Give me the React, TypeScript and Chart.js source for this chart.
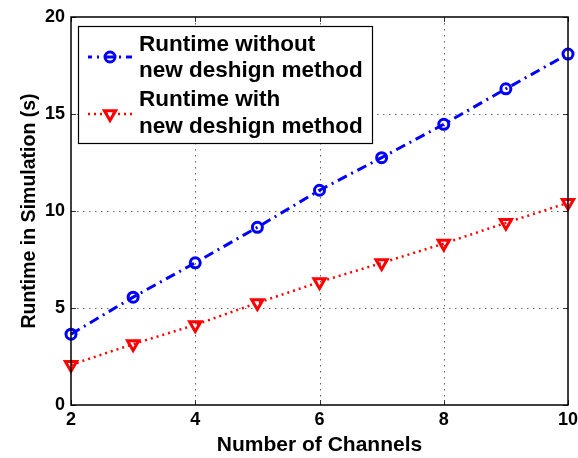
import React, { useEffect, useRef } from "react";
import { Chart, registerables } from "chart.js";

Chart.register(...registerables);

const channels = [2, 3, 4, 5, 6, 7, 8, 9, 10];
const runtimeWithout = [3.65, 5.56, 7.33, 9.16, 11.07, 12.75, 14.47, 16.3, 18.09];
const runtimeWith = [2.07, 3.14, 4.13, 5.26, 6.34, 7.32, 8.32, 9.39, 10.42];
const xTicks = [2, 4, 6, 8, 10];
const yTicks = [0, 5, 10, 15, 20];
const legendWithout = ["Runtime without", "new deshign method"];
const legendWith = ["Runtime with", "new deshign method"];

const FONT = "'Liberation Sans', Arial, Helvetica, sans-serif";

const framePlugin = {
  id: "frame",
  beforeDatasetsDraw(chart: any) {
    const { ctx, chartArea: a, scales } = chart;
    ctx.save();
    // dotted grid
    ctx.strokeStyle = "rgba(0,0,0,0.6)";
    ctx.lineWidth = 1;
    ctx.setLineDash([1.5, 4.5]);
    xTicks.forEach((v) => {
      if (v === xTicks[0] || v === xTicks[xTicks.length - 1]) return;
      const px = Math.round(scales.x.getPixelForValue(v)) + 0.5;
      ctx.beginPath();
      ctx.moveTo(px, a.top);
      ctx.lineTo(px, a.bottom);
      ctx.stroke();
    });
    yTicks.forEach((v) => {
      if (v === yTicks[0] || v === yTicks[yTicks.length - 1]) return;
      const py = Math.round(scales.y.getPixelForValue(v)) + 0.5;
      ctx.beginPath();
      ctx.moveTo(a.left, py);
      ctx.lineTo(a.right, py);
      ctx.stroke();
    });
    ctx.setLineDash([]);
    // inward tick marks
    ctx.strokeStyle = "#333";
    ctx.lineWidth = 1;
    xTicks.forEach((v) => {
      const px = Math.round(scales.x.getPixelForValue(v)) + 0.5;
      ctx.beginPath();
      ctx.moveTo(px, a.bottom);
      ctx.lineTo(px, a.bottom - 5);
      ctx.moveTo(px, a.top);
      ctx.lineTo(px, a.top + 5);
      ctx.stroke();
    });
    yTicks.forEach((v) => {
      const py = Math.round(scales.y.getPixelForValue(v)) + 0.5;
      ctx.beginPath();
      ctx.moveTo(a.left, py);
      ctx.lineTo(a.left + 5, py);
      ctx.moveTo(a.right, py);
      ctx.lineTo(a.right - 5, py);
      ctx.stroke();
    });
    ctx.restore();
  },
  afterDraw(chart: any) {
    const { ctx, chartArea: a } = chart;
    ctx.save();
    // frame
    ctx.strokeStyle = "#000";
    ctx.lineWidth = 1.5;
    ctx.strokeRect(a.left, a.top, a.right - a.left, a.bottom - a.top);

    // legend
    const bx = a.left + 7;
    const by = a.top + 9;
    const bw = 294;
    const bh = 117;
    ctx.fillStyle = "#fff";
    ctx.fillRect(bx, by, bw, bh);
    ctx.lineWidth = 1.2;
    ctx.strokeStyle = "#000";
    ctx.strokeRect(bx + 0.5, by + 0.5, bw, bh);

    // entry 1 sample
    const sx0 = bx + 10;
    const sx1 = bx + 54;
    const sc = (sx0 + sx1) / 2;
    const y1 = by + 31;
    ctx.strokeStyle = "#0000ff";
    ctx.lineWidth = 3;
    ctx.setLineDash([10, 5, 2, 5]);
    ctx.lineDashOffset = 6;
    ctx.beginPath();
    ctx.moveTo(sx0, y1);
    ctx.lineTo(sx1, y1);
    ctx.stroke();
    ctx.setLineDash([]);
    ctx.beginPath();
    ctx.arc(sc, y1, 5, 0, Math.PI * 2);
    ctx.stroke();

    // entry 2 sample
    const y2 = by + 88;
    ctx.strokeStyle = "#ff0000";
    ctx.lineWidth = 2.5;
    ctx.setLineDash([2, 4]);
    ctx.beginPath();
    ctx.moveTo(sx0, y2);
    ctx.lineTo(sx1, y2);
    ctx.stroke();
    ctx.setLineDash([]);
    ctx.lineWidth = 3;
    const r = 6.5;
    ctx.beginPath();
    ctx.moveTo(sc - r * 0.866, y2 - r * 0.5);
    ctx.lineTo(sc + r * 0.866, y2 - r * 0.5);
    ctx.lineTo(sc, y2 + r);
    ctx.closePath();
    ctx.stroke();

    // texts
    ctx.fillStyle = "#000";
    ctx.font = `bold 22.5px ${FONT}`;
    ctx.textBaseline = "alphabetic";
    ctx.textAlign = "left";
    const tx = bx + 61;
    ctx.fillText(legendWithout[0], tx, by + 25);
    ctx.fillText(legendWithout[1], tx, by + 51);
    ctx.fillText(legendWith[0], tx, by + 80);
    ctx.fillText(legendWith[1], tx, by + 107);
    ctx.restore();
  },
};

export default function App() {
  const ref = useRef<HTMLCanvasElement | null>(null);

  useEffect(() => {
    if (!ref.current) return;
    const chart = new Chart(ref.current, {
      type: "line",
      data: {
        labels: channels,
        datasets: [
          {
            label: legendWithout.join(" "),
            data: channels.map((c, i) => ({ x: c, y: runtimeWithout[i] })),
            borderColor: "#0000ff",
            borderWidth: 3,
            borderDash: [10, 5, 2, 5],
            pointStyle: "circle",
            pointRadius: 5,
            pointBorderWidth: 3,
            pointBorderColor: "#0000ff",
            pointBackgroundColor: "rgba(0,0,0,0)",
            tension: 0,
            fill: false,
            clip: false,
          },
          {
            label: legendWith.join(" "),
            data: channels.map((c, i) => ({ x: c, y: runtimeWith[i] })),
            borderColor: "#ff0000",
            borderWidth: 2.5,
            borderDash: [2, 4],
            pointStyle: "triangle",
            pointRotation: 180,
            pointRadius: 6.5,
            pointBorderWidth: 3,
            pointBorderColor: "#ff0000",
            pointBackgroundColor: "rgba(0,0,0,0)",
            tension: 0,
            fill: false,
            clip: false,
          },
        ],
      },
      options: {
        animation: false,
        responsive: false,
        maintainAspectRatio: false,
        layout: { padding: { top: 17, right: 10, left: 0, bottom: 0 } },
        plugins: {
          legend: { display: false },
          tooltip: { enabled: false },
        },
        scales: {
          x: {
            type: "linear",
            min: 2,
            max: 10,
            afterBuildTicks: (scale: any) => {
              scale.ticks = xTicks.map((v) => ({ value: v }));
            },
            afterFit: (scale: any) => {
              scale.height = 53;
              scale.paddingLeft = 0;
              scale.paddingRight = 0;
            },
            grid: { display: false, drawTicks: false },
            border: { display: false },
            ticks: {
              color: "#000",
              padding: 4,
              font: { family: FONT, size: 18, weight: "bold" },
            },
            title: {
              display: true,
              text: "Number of Channels",
              color: "#000",
              padding: { top: 3, bottom: 0 },
              font: { family: FONT, size: 21, weight: "bold" },
            },
          },
          y: {
            type: "linear",
            min: 0,
            max: 20,
            afterBuildTicks: (scale: any) => {
              scale.ticks = yTicks.map((v) => ({ value: v }));
            },
            afterFit: (scale: any) => {
              scale.width = 71;
              scale.paddingTop = 0;
              scale.paddingBottom = 0;
            },
            grid: { display: false, drawTicks: false },
            border: { display: false },
            ticks: {
              color: "#000",
              padding: 6,
              font: { family: FONT, size: 18, weight: "bold" },
            },
            title: {
              display: true,
              text: "Runtime in Simulation (s)",
              color: "#000",
              padding: { top: 18, bottom: 0 },
              font: { family: FONT, size: 19.5, weight: "bold" },
            },
          },
        },
      },
      plugins: [framePlugin],
    });
    return () => chart.destroy();
  }, []);

  return (
    <div style={{ position: "absolute", left: 0, top: 0, width: 578, height: 458, background: "#fff" }}>
      <canvas ref={ref} width={578} height={458} style={{ width: 578, height: 458 }} />
    </div>
  );
}
